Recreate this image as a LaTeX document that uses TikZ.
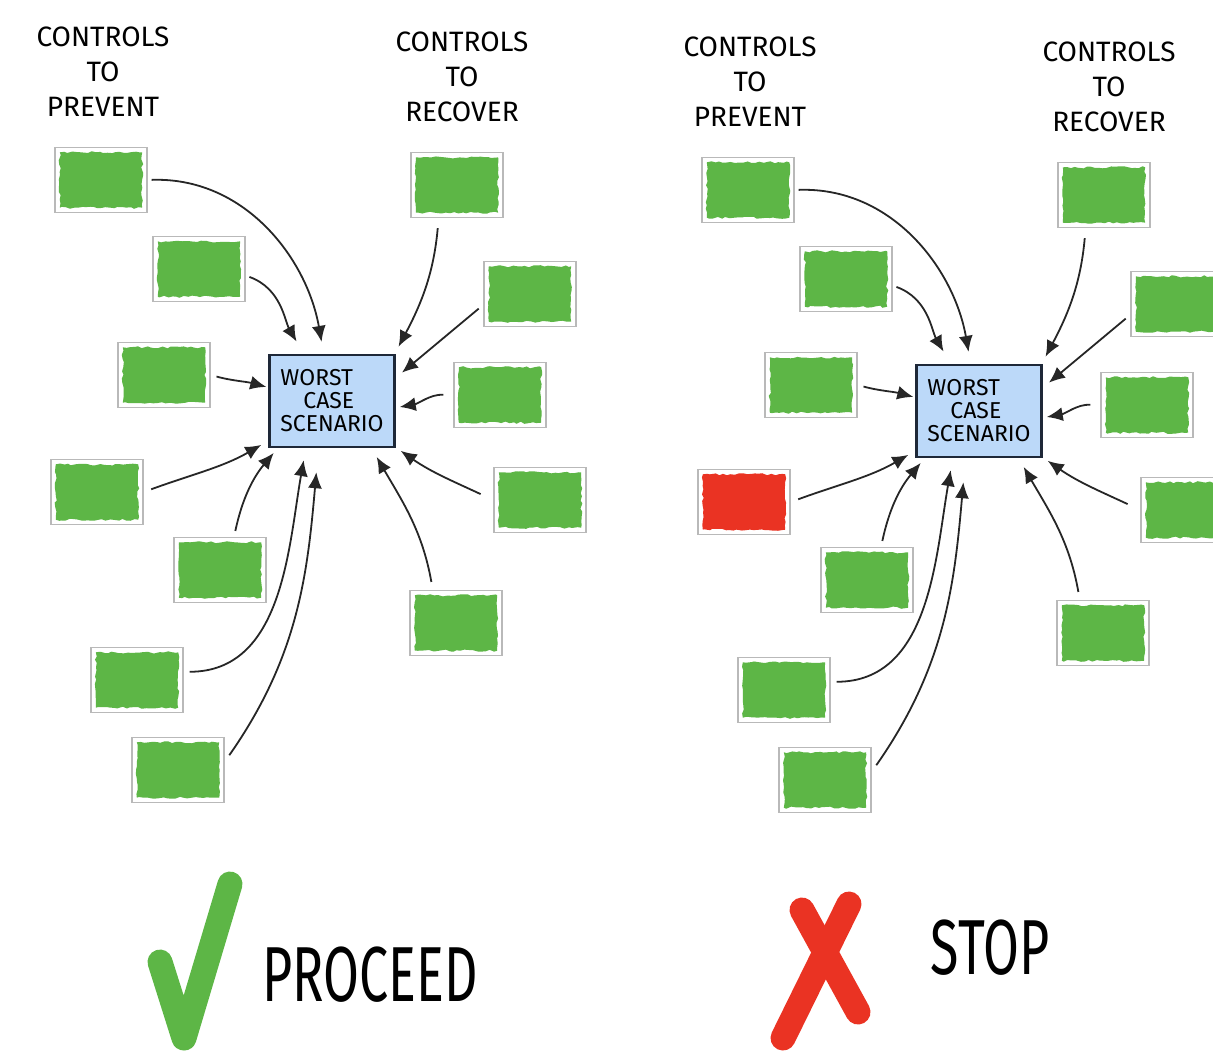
\documentclass[tikz,border=0pt]{standalone}
\usepackage{fontspec}
\setmainfont{Fira Sans}
\usepackage{tikz}
\usetikzlibrary{arrows.meta, decorations.pathmorphing}
\usepackage{xcolor}
\definecolor{ctrlgreen}{HTML}{5DB646}
\definecolor{ctrlred}{HTML}{EA3323}
\definecolor{wcsblue}{HTML}{BCD9F9}
\definecolor{wcsedge}{HTML}{1E2838}
\pgfmathsetseed{42}

\begin{document}
\begin{tikzpicture}[
    x=0.5pt, y=0.5pt,
    >=Latex,
    every node/.style={font=\small},
    heading/.style={align=center, font=\fontsize{14}{17.5}\selectfont},
    ctrlbox/.style={draw=gray!55, line width=0.7pt, fill=white, minimum width=46pt, minimum height=32.5pt, inner sep=0pt,
        path picture={\fill[#1, decorate, decoration={random steps, segment length=2pt, amplitude=0.55pt}]
            ([shift={(2.4pt,2.4pt)}]path picture bounding box.south west) rectangle
            ([shift={(-2.4pt,-2.4pt)}]path picture bounding box.north east);}},
    ctrlbox/.default=ctrlgreen,
    wcs/.style={draw=wcsedge, line width=1.3pt, fill=wcsblue, minimum width=62.5pt, minimum height=46pt,
        align=left, inner sep=1pt, font=\fontsize{11.5}{11.5}\selectfont},
    arrow/.style={-{Latex[length=8pt, width=7pt]}, line width=0.9pt, black!85},
    verdict/.style={font=\fontsize{26}{30}\selectfont},
    bigstroke/.style={line width=12.5pt, line cap=round, line join=round},
]

% ── Page frame ──
\useasboundingbox (0,0) rectangle (1213,-1055);
\clip (0,0) rectangle (1213,-1055);

% ── Left panel ──
\node[heading] (lhprev) at (103,-72) {CONTROLS\\TO\\PREVENT};
\node[heading] (lhrec) at (462,-77) {CONTROLS\\TO\\RECOVER};

\node[wcs] (lwcs) at (332,-401) {WORST\\\hspace*{1em}CASE\\SCENARIO};

% Controls to prevent
\node[ctrlbox] (lp1) at (101,-180) {};
\node[ctrlbox] (lp2) at (199,-269) {};
\node[ctrlbox] (lp3) at (164,-375) {};
\node[ctrlbox] (lp4) at (97,-492) {};
\node[ctrlbox] (lp5) at (220,-570) {};
\node[ctrlbox] (lp6) at (137,-680) {};
\node[ctrlbox] (lp7) at (178,-770) {};

% Controls to recover
\node[ctrlbox] (lr1) at (457,-185) {};
\node[ctrlbox] (lr2) at (530,-294) {};
\node[ctrlbox] (lr3) at (500,-395) {};
\node[ctrlbox] (lr4) at (540,-500) {};
\node[ctrlbox] (lr5) at (456,-623) {};

\draw[arrow, shorten <=2pt, shorten >=6pt] (lp1.east) to[out=2, in=100] (lwcs.100);
\draw[arrow, shorten <=2pt, shorten >=7pt] (lp2.-8) to[out=-20, in=120] (lwcs.121);
\draw[arrow, shorten <=3pt, shorten >=1pt] (lp3.east) to[out=-15, in=165] (lwcs.168);
\draw[arrow, shorten <=4pt, shorten >=4pt] (lp4.east) to[out=20, in=210] (lwcs.212);
\draw[arrow, shorten <=3pt, shorten >=3pt] (lp5.67) to[out=78, in=230] (lwcs.221);
\draw[arrow, shorten <=3pt, shorten >=6pt] (lp6.10) to[out=0, in=260] (lwcs.241);
\draw[arrow, shorten <=4pt, shorten >=12pt] (lp7.10) to[out=55, in=265] (lwcs.254);
\draw[arrow, shorten <=5pt, shorten >=4pt] (lr1.241) to[out=265, in=62] (lwcs.37);
\draw[arrow, shorten <=3pt, shorten >=4pt] (lr2.193) -- (lwcs.20);
\draw[arrow, shorten <=5pt, shorten >=2pt] (lr3.west) to[out=178, in=10] (lwcs.354);
\draw[arrow, shorten <=7pt, shorten >=3pt] (lr4.west) to[out=155, in=-35] (lwcs.324);
\draw[arrow, shorten <=4pt, shorten >=5pt] (lr5.125) to[out=100, in=-60] (lwcs.310);

% ── Right panel (one prevent control failed) ──
\begin{scope}[shift={(647,-10)}]
\node[heading] (rhprev) at (103,-72) {CONTROLS\\TO\\PREVENT};
\node[heading] (rhrec) at (462,-77) {CONTROLS\\TO\\RECOVER};

\node[wcs] (rwcs) at (332,-401) {WORST\\\hspace*{1em}CASE\\SCENARIO};

\node[ctrlbox] (rp1) at (101,-180) {};
\node[ctrlbox] (rp2) at (199,-269) {};
\node[ctrlbox] (rp3) at (164,-375) {};
\node[ctrlbox=ctrlred] (rp4) at (97,-492) {};
\node[ctrlbox] (rp5) at (220,-570) {};
\node[ctrlbox] (rp6) at (137,-680) {};
\node[ctrlbox] (rp7) at (178,-770) {};

\node[ctrlbox] (rr1) at (457,-185) {};
\node[ctrlbox] (rr2) at (530,-294) {};
\node[ctrlbox] (rr3) at (500,-395) {};
\node[ctrlbox] (rr4) at (540,-500) {};
\node[ctrlbox] (rr5) at (456,-623) {};

\draw[arrow, shorten <=2pt, shorten >=6pt] (rp1.east) to[out=2, in=100] (rwcs.100);
\draw[arrow, shorten <=2pt, shorten >=7pt] (rp2.-8) to[out=-20, in=120] (rwcs.121);
\draw[arrow, shorten <=3pt, shorten >=1pt] (rp3.east) to[out=-15, in=165] (rwcs.168);
\draw[arrow, shorten <=4pt, shorten >=4pt] (rp4.east) to[out=20, in=210] (rwcs.212);
\draw[arrow, shorten <=3pt, shorten >=3pt] (rp5.67) to[out=78, in=230] (rwcs.221);
\draw[arrow, shorten <=3pt, shorten >=6pt] (rp6.10) to[out=0, in=260] (rwcs.241);
\draw[arrow, shorten <=4pt, shorten >=12pt] (rp7.10) to[out=55, in=265] (rwcs.254);
\draw[arrow, shorten <=5pt, shorten >=4pt] (rr1.241) to[out=265, in=62] (rwcs.37);
\draw[arrow, shorten <=3pt, shorten >=4pt] (rr2.193) -- (rwcs.20);
\draw[arrow, shorten <=5pt, shorten >=2pt] (rr3.west) to[out=178, in=10] (rwcs.354);
\draw[arrow, shorten <=7pt, shorten >=3pt] (rr4.west) to[out=155, in=-35] (rwcs.324);
\draw[arrow, shorten <=4pt, shorten >=5pt] (rr5.125) to[out=100, in=-60] (rwcs.310);
\end{scope}

% ── Verdicts ──
\draw[bigstroke, ctrlgreen] (160,-962) -- (184,-1038) -- (230,-884);
\node[verdict] (proceed) at (370,-975) {\scalebox{1}[1.5]{PROCEED}};

\draw[bigstroke, ctrlred] (802,-910) -- (858,-1012);
\draw[bigstroke, ctrlred] (849,-904) -- (783,-1038);
\node[verdict] (stop) at (990,-948) {\scalebox{1}[1.5]{STOP}};

\end{tikzpicture}
\end{document}
